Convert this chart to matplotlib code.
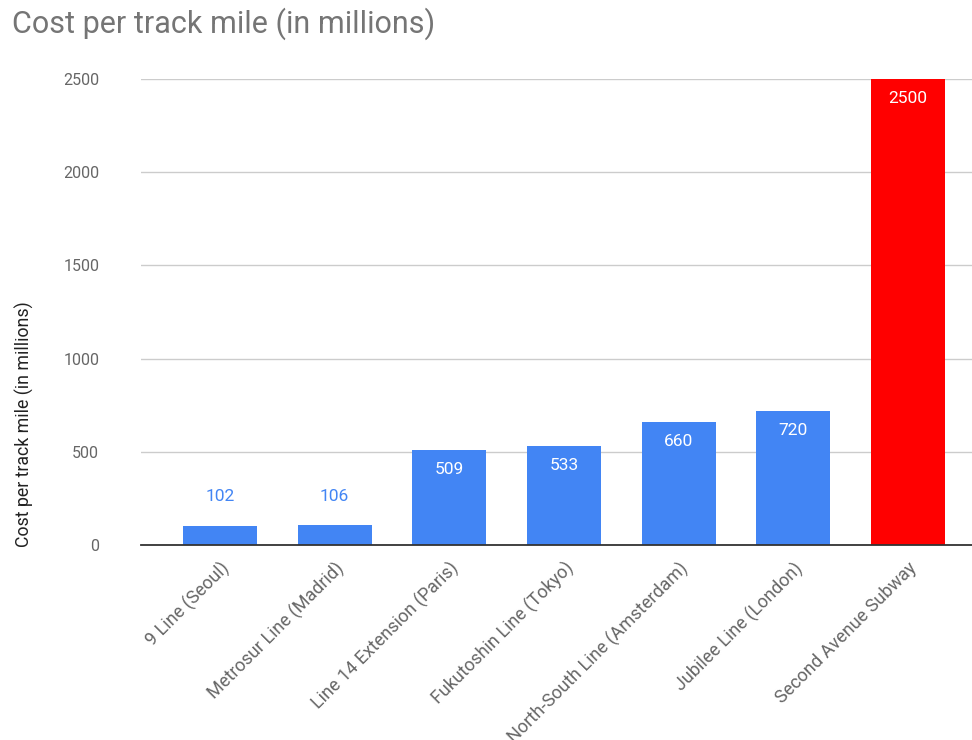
import matplotlib
matplotlib.use("Agg")
import matplotlib.pyplot as plt

plt.rcParams['font.family'] = ['Roboto', 'DejaVu Sans']

# data
lines = ['9 Line (Seoul)', 'Metrosur Line (Madrid)', 'Line 14 Extension (Paris)',
         'Fukutoshin Line (Tokyo)', 'North-South Line (Amsterdam)',
         'Jubilee Line (London)', 'Second Avenue Subway']
cost = [102, 106, 509, 533, 660, 720, 2500]
colors = ['#4285F4'] * 6 + ['#FF0000']
yticks = [0, 500, 1000, 1500, 2000, 2500]

fig = plt.figure(figsize=(9.72, 7.4), dpi=100)
ax = fig.add_axes([0.145, 0.2635, 0.855, 0.6297])

x = range(len(lines))
bars = ax.bar(x, cost, width=0.645, color=colors, zorder=3)

# value labels: inside for tall bars, above for short ones
for i, v in enumerate(cost):
    if v < 300:
        ax.annotate(str(v), (i, v), xytext=(0, 21), textcoords='offset points',
                    ha='center', va='center', color='#4285F4', fontsize=12.5)
    else:
        ax.annotate(str(v), (i, v), xytext=(0, -14), textcoords='offset points',
                    ha='center', va='center', color='white', fontsize=12.5)

ax.set_xlim(-0.69, 6.56)
ax.set_ylim(0, 2500)
ax.set_yticks(yticks)
ax.set_xticks(list(x))
ax.set_xticklabels(lines, rotation=45, ha='right', rotation_mode='anchor')
ax.tick_params(axis='both', length=0, colors='#666666')
ax.tick_params(axis='x', pad=10, labelsize=13)
ax.tick_params(axis='y', pad=30, labelsize=11.5)

ax.grid(axis='y', color='#cccccc', linewidth=1, zorder=0)
for s in ['top', 'right', 'left']:
    ax.spines[s].set_visible(False)
ax.spines['bottom'].set_color('#333333')
ax.spines['bottom'].set_linewidth(1.3)
ax.spines['bottom'].set_zorder(4)

# y label sits low, centred around y ~ 423 px
ax.set_ylabel('Cost per track mile (in millions)', color='#222222', fontsize=12.8)
ax.yaxis.set_label_coords(-0.129, 0.26)

fig.text(0.012, 0.968, 'Cost per track mile (in millions)', color='#757575',
         fontsize=22, ha='left', va='center')

fig.savefig('out.png', dpi=100)
